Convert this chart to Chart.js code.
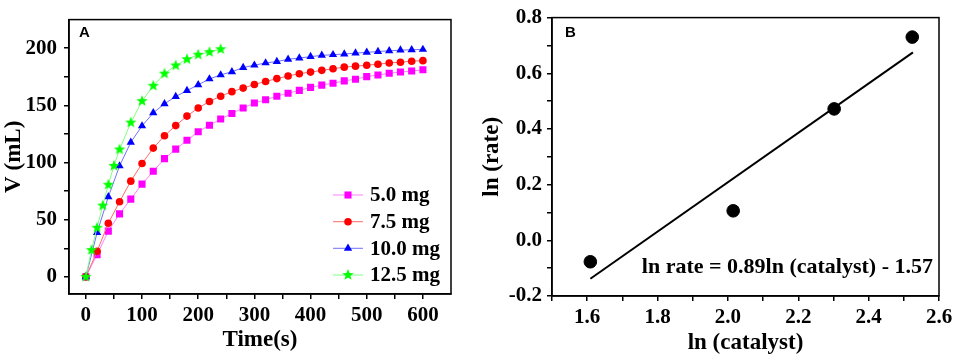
<!DOCTYPE html>
<html lang="en">
<head>
<meta charset="UTF-8">
<title>Catalyst hydrolysis</title>
<script src="https://cdn.jsdelivr.net/npm/chart.js@4.4.1/dist/chart.umd.min.js"></script>
<style>
  html, body { margin: 0; padding: 0; background: #fff; }
  #wrap { position: relative; width: 957px; height: 358px; }
  canvas { position: absolute; top: 0; }
  #chartA { left: 0; }
  #chartB { left: 478px; }
</style>
</head>
<body>
<div id="wrap">
  <canvas id="chartA" width="478" height="358"></canvas>
  <canvas id="chartB" width="479" height="358"></canvas>
</div>
<script>
// panel A: hydrogen volume vs time
const timeSteps = [0, 20, 40, 60, 80, 100, 120, 140, 160, 180, 200, 220, 240, 260, 280, 300,
  320, 340, 360, 380, 400, 420, 440, 460, 480, 500, 520, 540, 560, 580, 600];
const timeSteps125 = [0, 10, 20, 30, 40, 50, 60, 80, 100, 120, 140, 160, 180, 200, 220, 240];
const vol50 = [0, 19.4, 40, 55.1, 68, 81.1, 92.3, 103.4, 111.7, 119.4, 126.9, 132.6, 138, 142.9, 147.7, 152,
  154.9, 158, 160.6, 163.1, 165.7, 167.7, 169.4, 171.4, 172.9, 175.1, 176.6, 178, 179.1, 180, 181.1];
const vol75 = [0, 22.3, 46.9, 65.7, 83.7, 99.1, 112.6, 123.4, 132.3, 140.6, 147.7, 153.4, 158, 162, 165.1, 168.3,
  170.9, 173.4, 175.7, 177.7, 179.1, 180.6, 182, 183.4, 184.3, 185.1, 186, 187.1, 187.7, 188.6, 189.1];
const vol100 = [0, 38.6, 70, 97, 117.7, 132, 143.4, 151.4, 157.7, 162.9, 168, 173.1, 176.6, 179.4, 183.1, 185.1,
  187.1, 188.3, 190.3, 191.4, 192.6, 193.7, 194.3, 194.9, 195.7, 196.3, 197.1, 197.7, 198.3, 198.6, 198.9];
const vol125 = [0, 23.4, 42.9, 62.3, 80.6, 97.1, 111.4, 134.9, 153.7, 167.1, 177.7, 184.9, 190.3, 194.3, 196.6, 199.1];
const seriesLabels = ['5.0 mg', '7.5 mg', '10.0 mg', '12.5 mg'];
const timeTicks = [0, 50, 100, 150, 200, 250, 300, 350, 400, 450, 500, 550, 600];
const volTicks = [0, 25, 50, 75, 100, 125, 150, 175, 200];

// panel B: ln(rate) vs ln(catalyst)
const lnCatalyst = [1.609, 2.015, 2.302, 2.524];
const lnRate = [-0.077, 0.106, 0.472, 0.73];
const fitX = [1.609, 2.526];
const fitY = [-0.138, 0.675];
const catTicks = [1.5, 1.6, 1.7, 1.8, 1.9, 2.0, 2.1, 2.2, 2.3, 2.4, 2.5, 2.6];
const rateTicks = [-0.2, -0.1, 0.0, 0.1, 0.2, 0.3, 0.4, 0.5, 0.6, 0.7, 0.8];
const fitLabel = 'ln rate = 0.89ln (catalyst) - 1.57';

const serif = "'Liberation Serif', 'Times New Roman', serif";
Chart.defaults.color = '#000';
Chart.defaults.animation = false;
Chart.defaults.font.family = serif;
Chart.defaults.font.weight = 'bold';
Chart.defaults.font.size = 21;

function pts(xs, ys) { return xs.map((x, i) => ({ x: x, y: ys[i] })); }

// filled five point star used as the 12.5 mg marker
function makeStar(r, color) {
  const c = document.createElement('canvas');
  const s = Math.ceil(r * 2 + 2);
  c.width = s; c.height = s;
  const g = c.getContext('2d');
  g.fillStyle = color;
  g.beginPath();
  for (let i = 0; i < 10; i++) {
    const rad = i % 2 === 0 ? r : r * 0.42;
    const a = -Math.PI / 2 + i * Math.PI / 5;
    g.lineTo(s / 2 + rad * Math.cos(a), s / 2 + rad * Math.sin(a));
  }
  g.closePath();
  g.fill();
  return c;
}
const star = makeStar(6, '#00ff00');

function tickAxis(values, showFn, fmt, pad) {
  return {
    type: 'linear',
    afterBuildTicks: s => { s.ticks = values.map(v => ({ value: v })); },
    ticks: {
      autoSkip: false, padding: pad, maxRotation: 0, minRotation: 0,
      font: { family: serif, size: 21, weight: 'bold' },
      callback: v => showFn(v) ? fmt(v) : ''
    },
    grid: { drawOnChartArea: false, drawTicks: true, tickLength: 5, color: '#000', lineWidth: 1.5 },
    border: { display: true, color: '#000', width: 1.5 }
  };
}

// frame box and panel letter
const framePlugin = {
  id: 'frame',
  afterDraw(chart, args, opts) {
    const a = chart.chartArea, ctx = chart.ctx;
    ctx.save();
    ctx.strokeStyle = '#000';
    ctx.lineWidth = 1.5;
    ctx.strokeRect(a.left, a.top, a.right - a.left, a.bottom - a.top);
    ctx.font = "bold 15px 'Liberation Sans', Arial, sans-serif";
    ctx.fillStyle = '#000';
    ctx.textBaseline = 'top';
    ctx.fillText(opts.letter, a.left + opts.dx, a.top + opts.dy);
    ctx.restore();
  }
};

// legend drawn inside plot area of panel A
const insideLegend = {
  id: 'insideLegend',
  afterDraw(chart) {
    if (chart.canvas.id !== 'chartA') return;
    const ctx = chart.ctx;
    const x0 = 333, x1 = 363, rowY = [195, 221.7, 248.3, 275];
    ctx.save();
    chart.data.datasets.forEach((ds, i) => {
      const y = rowY[i];
      ctx.strokeStyle = ds.borderColor;
      ctx.lineWidth = 1;
      ctx.beginPath(); ctx.moveTo(x0, y); ctx.lineTo(x1, y); ctx.stroke();
      ctx.fillStyle = ds.pointBackgroundColor;
      ctx.strokeStyle = ds.pointBorderColor;
      Chart.helpers.drawPoint(ctx, { pointStyle: ds.pointStyle, radius: ds.pointRadius, borderWidth: 0 }, (x0 + x1) / 2, y);
      ctx.fillStyle = '#000';
      ctx.font = 'bold 21px ' + serif;
      ctx.textBaseline = 'middle';
      ctx.fillText(ds.label, 370, y + 1);
    });
    ctx.restore();
  }
};

const fitText = {
  id: 'fitText',
  afterDraw(chart) {
    if (chart.canvas.id !== 'chartB') return;
    const ctx = chart.ctx;
    ctx.save();
    ctx.font = 'bold 22px ' + serif;
    ctx.fillStyle = '#000';
    ctx.textAlign = 'right';
    ctx.textBaseline = 'alphabetic';
    ctx.fillText(fitLabel, chart.chartArea.right - 6, 273);
    ctx.restore();
  }
};

function mkSeries(label, xs, ys, style, radius, mark, line, order) {
  return {
    label: label, data: pts(xs, ys), order: order,
    borderColor: line, borderWidth: 1, showLine: true, tension: 0,
    pointStyle: style, pointRadius: radius, pointHoverRadius: radius,
    pointBackgroundColor: mark, pointBorderColor: mark, pointBorderWidth: 0
  };
}

const titleFont = { family: serif, size: 23, weight: 'bold' };

const xA = tickAxis(timeTicks, v => v % 100 === 0, v => String(v), 4);
xA.min = -30; xA.max = 650;
xA.title = { display: true, text: 'Time(s)', font: titleFont, padding: { top: 0, bottom: 4 } };
xA.afterFit = s => { s.height = 64; };
const yA = tickAxis(volTicks, v => v % 50 === 0, v => String(v), 7);
yA.min = -15; yA.max = 225;
yA.title = { display: true, text: 'V (mL)', font: titleFont, padding: 0 };
yA.afterFit = s => { s.width = 69; };

new Chart(document.getElementById('chartA'), {
  type: 'scatter',
  data: {
    datasets: [
      mkSeries(seriesLabels[0], timeSteps, vol50, 'rect', 5, '#ff00ff', '#ff80ff', 3),
      mkSeries(seriesLabels[1], timeSteps, vol75, 'circle', 3.8, '#ff0000', '#ff6a6a', 2),
      mkSeries(seriesLabels[2], timeSteps, vol100, 'triangle', 4.8, '#0000ff', '#7070ff', 1),
      mkSeries(seriesLabels[3], timeSteps125, vol125, star, 6, '#00ff00', '#80ff80', 0)
    ]
  },
  options: {
    responsive: false,
    layout: { padding: { top: 14, right: 27, left: 0, bottom: 0 } },
    plugins: { legend: { display: false }, tooltip: { enabled: false }, frame: { letter: 'A', dx: 10, dy: 6 } },
    scales: { x: xA, y: yA }
  },
  plugins: [framePlugin, insideLegend]
});

const xB = tickAxis(catTicks, v => Math.round(v * 10) % 2 === 0, v => v.toFixed(1), 4);
xB.min = 1.5; xB.max = 2.6;
xB.title = { display: true, text: 'ln (catalyst)', font: titleFont, padding: { top: 0, bottom: 1 } };
xB.afterFit = s => { s.height = 62; };
const yB = tickAxis(rateTicks, v => Math.round(v * 10) % 2 === 0, v => v.toFixed(1), 5);
yB.min = -0.2; yB.max = 0.8;
yB.title = { display: true, text: 'ln (rate)', font: titleFont, padding: 0 };
yB.afterFit = s => { s.width = 74; };

new Chart(document.getElementById('chartB'), {
  type: 'scatter',
  data: {
    datasets: [
      { label: 'data', data: pts(lnCatalyst, lnRate), pointRadius: 6.3, pointHoverRadius: 6.3,
        pointBackgroundColor: '#000', pointBorderColor: '#000', showLine: false, order: 0 },
      { label: 'fit', data: pts(fitX, fitY), showLine: true, borderColor: '#000', borderWidth: 2,
        pointRadius: 0, pointHoverRadius: 0, tension: 0, order: 1 }
    ]
  },
  options: {
    responsive: false,
    layout: { padding: { top: 12, right: 18, left: 0, bottom: 0 } },
    plugins: { legend: { display: false }, tooltip: { enabled: false }, frame: { letter: 'B', dx: 13, dy: 8 } },
    scales: { x: xB, y: yB }
  },
  plugins: [framePlugin, fitText]
});
</script>
</body>
</html>
